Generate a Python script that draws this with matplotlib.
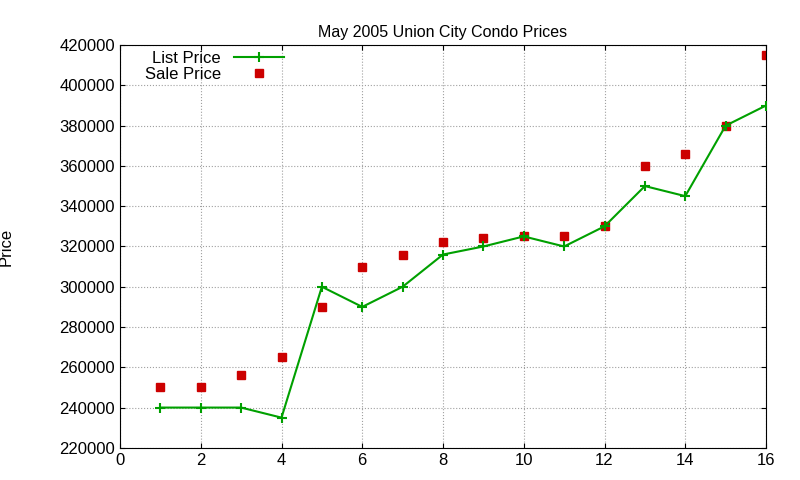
import matplotlib
matplotlib.use("Agg")
from matplotlib import pyplot as plt

months = list(range(1, 17))
list_price = [240000, 240000, 240000, 235000, 300000, 290000, 300000, 316000,
              320000, 325000, 320000, 330000, 350000, 345000, 380000, 390000]
sale_price = [250000, 250000, 256000, 265000, 290000, 310000, 316000, 322000,
              324000, 325000, 325000, 330000, 360000, 366000, 380000, 415000]

plt.rcParams['font.family'] = ['Liberation Sans', 'DejaVu Sans']
fig = plt.figure(figsize=(8, 4.8), dpi=100)
ax = fig.add_axes([0.15, 0.067, 0.8075, 0.839])

ax.plot(months, sale_price, linestyle="none", marker="s", markersize=5.5,
        color="#cc0000", label="Sale Price", zorder=2)
ax.plot(months, list_price, color="#00a000", marker="+", markersize=7,
        markeredgewidth=1.5, linewidth=1.5, label="List Price", zorder=3)

ax.set_xlim(0, 16)
ax.set_ylim(220000, 420000)
ax.set_xticks(range(0, 17, 2))
ax.set_yticks(range(220000, 420001, 20000))
ax.tick_params(direction="in", top=True, right=True, labelsize=12)
ax.grid(True, color="#a0a0a0", linestyle=":", linewidth=0.8)
for s in ax.spines.values():
    s.set_linewidth(0.8)

ax.set_title("May 2005 Union City Condo Prices", fontsize=11.5)
ax.set_ylabel("Price", fontsize=12)
ax.yaxis.set_label_coords(-0.165, 0.5)
handles, labels = ax.get_legend_handles_labels()
ax.legend(handles[::-1], labels[::-1], loc="upper left",
          bbox_to_anchor=(0.02, 1.015), frameon=False,
          markerfirst=False, fontsize=12, handlelength=3, borderpad=0.2,
          labelspacing=0.05)

fig.savefig("out.png", dpi=100)
